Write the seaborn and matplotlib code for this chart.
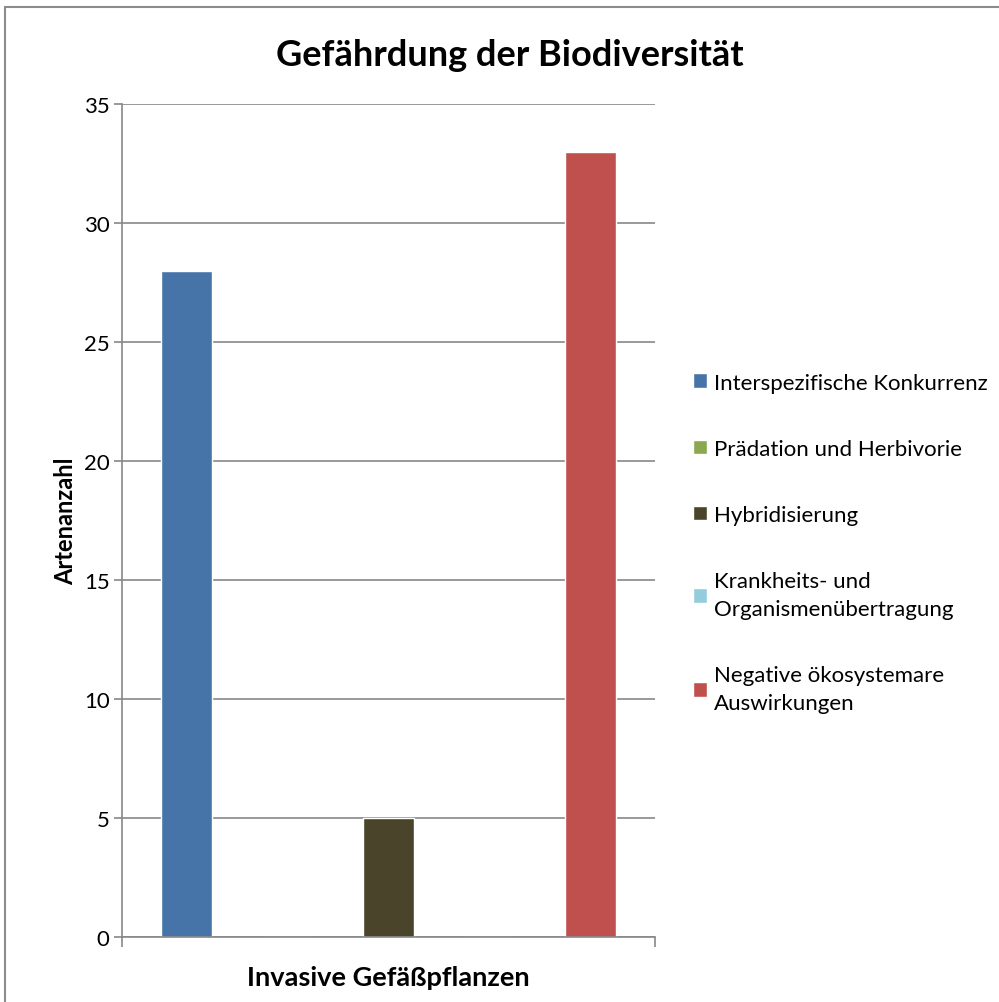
import matplotlib
matplotlib.use("Agg")
import matplotlib.pyplot as plt
import pandas as pd
import seaborn as sns
from matplotlib.patches import Rectangle

category = ["Invasive Gefäßpflanzen"]
series = ["Interspezifische Konkurrenz", "Prädation und Herbivorie", "Hybridisierung",
          "Krankheits- und\nOrganismenübertragung", "Negative ökosystemare\nAuswirkungen"]
values = [28, 0, 5, 0, 33]
colors = ["#4674A8", "#8BA74F", "#4A452A", "#93CDDD", "#C0504D"]
yticks = [0, 5, 10, 15, 20, 25, 30, 35]

df = pd.DataFrame({"Kategorie": category * len(series), "Reihe": series, "Wert": values})

sns.set_style("white")
plt.rcParams["font.family"] = ["Lato", "DejaVu Sans"]
plt.rcParams["text.color"] = "black"
plt.rcParams["axes.labelcolor"] = "black"
plt.rcParams["ytick.color"] = "black"

fig = plt.figure(figsize=(9.99, 10.03), dpi=100)
ax = fig.add_axes([122 / 999, 1 - 938 / 1003, 533 / 999, 833 / 1003])

sns.barplot(data=df, x="Kategorie", y="Wert", hue="Reihe", palette=colors,
            width=0.947, gap=0.495, ax=ax, saturation=1, legend=True)

ax.set_ylim(0, 35)
ax.set_xlim(-0.5, 0.5)
ax.set_yticks(yticks)
ax.yaxis.grid(True, color="#878787", linewidth=1.2)
ax.set_axisbelow(True)
for s in ["top", "right"]:
    ax.spines[s].set_visible(False)
for s in ["left", "bottom"]:
    ax.spines[s].set_color("#878787")
    ax.spines[s].set_linewidth(1.2)
ax.tick_params(axis="y", left=True, length=6, width=1.2, color="#878787",
               labelcolor="black", labelsize=16, pad=3)
ax.set_xticks([-0.5, 0.5])
ax.set_xticklabels(["", ""])
ax.tick_params(axis="x", bottom=True, length=7, width=1.2, color="#878787")

ax.set_xlabel("Invasive Gefäßpflanzen", fontsize=19.5, fontweight="bold", labelpad=10)
ax.set_ylabel("Artenanzahl", fontsize=17, fontweight="bold", labelpad=5)
fig.text(510 / 999, 1 - 55 / 1003, "Gefährdung der Biodiversität", fontsize=26,
         fontweight="bold", ha="center", va="center")

handles, labels = ax.get_legend_handles_labels()
leg = ax.legend(handles, labels, loc="center left", bbox_to_anchor=(1.055, 0.473),
                frameon=False, fontsize=16, handlelength=0.63, handleheight=0.63,
                handletextpad=0.3, labelspacing=2.08, borderaxespad=0)
for t in leg.get_texts():
    t.set_linespacing(1.5)

fig.patches.append(Rectangle((5 / 999, -0.1), 1.2, 1 - 8 / 1003 + 0.1,
                             transform=fig.transFigure, fill=False,
                             edgecolor="#8C8C8C", linewidth=1.5))

fig.savefig("out.png", dpi=100)
